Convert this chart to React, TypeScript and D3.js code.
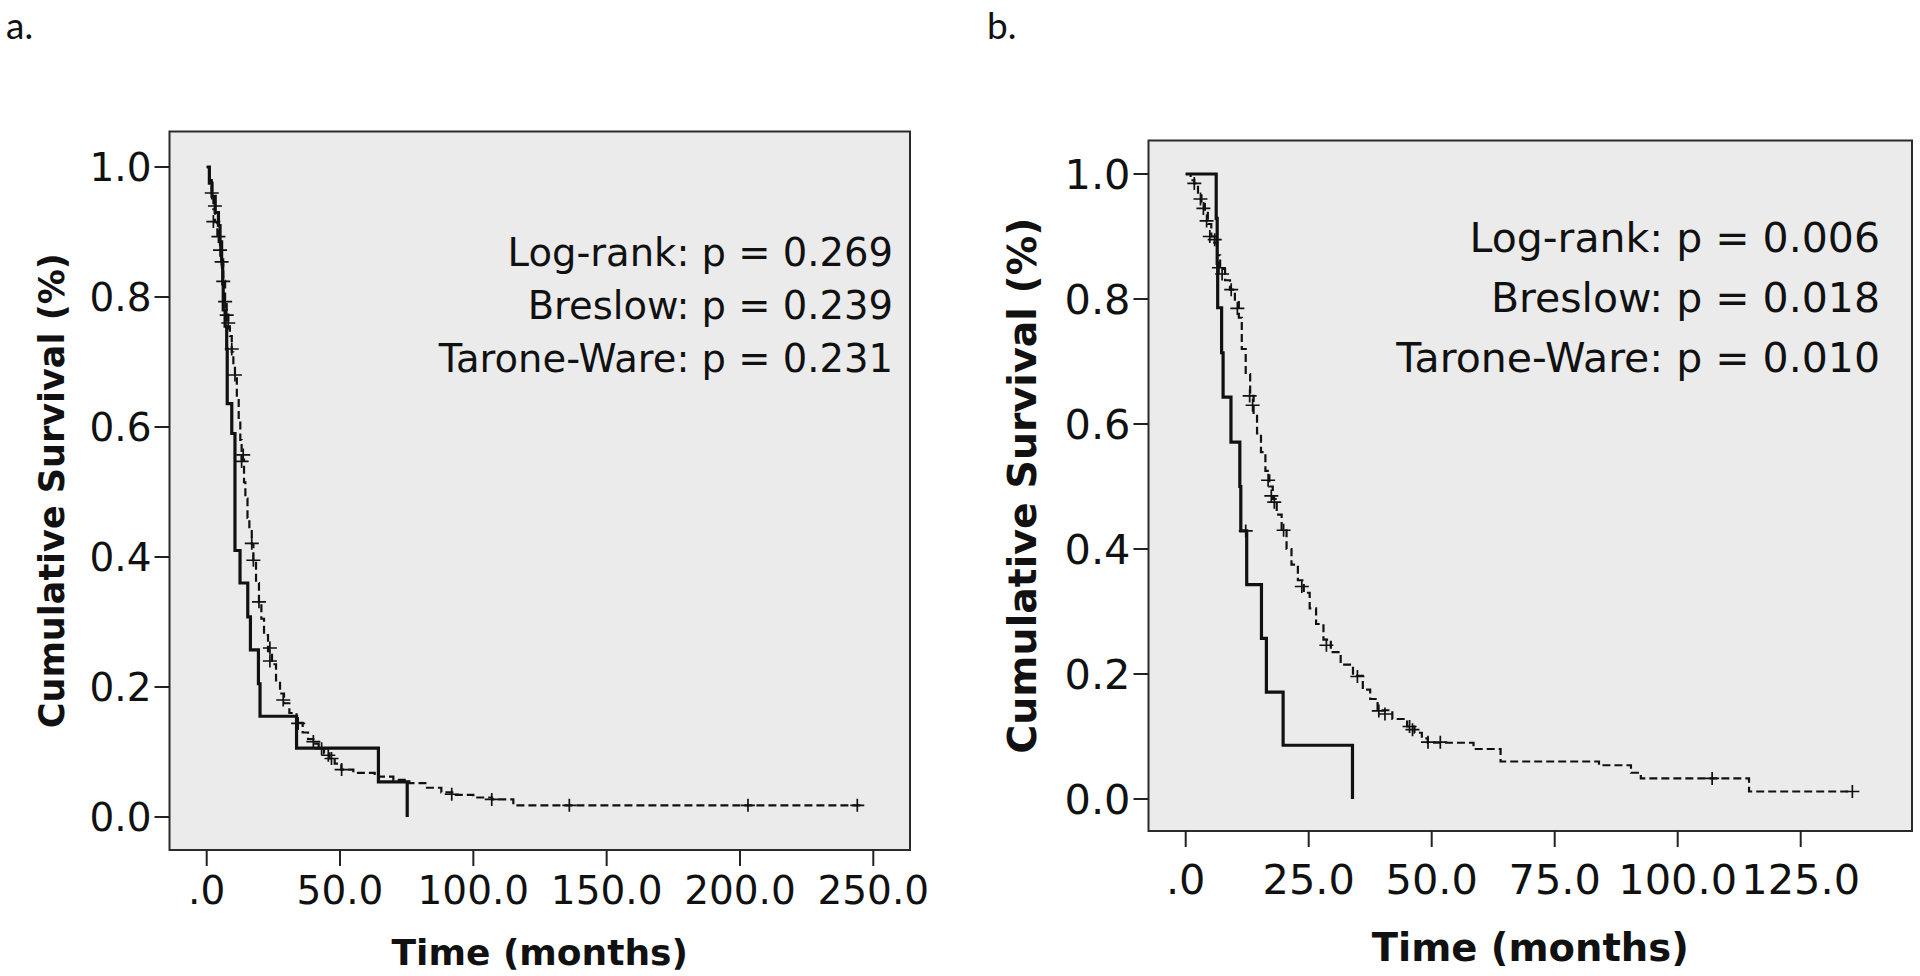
import React from "react";
import * as d3 from "d3";

// survival curves: [time in months, cumulative survival]
const panelASolid: [number, number][] = [
  [0, 1], [1.0, 0.975], [2.0, 0.955], [3.2, 0.93], [4.4, 0.91], [5.0, 0.885],
  [5.6, 0.857], [6.0, 0.82], [6.2, 0.78], [6.9, 0.755], [7.5, 0.72], [7.7, 0.636],
  [9.4, 0.59], [10.6, 0.41], [12.5, 0.36], [15.4, 0.308], [16.4, 0.257],
  [19.4, 0.205], [20.0, 0.155], [33.7, 0.106], [64.4, 0.054], [75.2, 0],
];

const panelADashed: [number, number][] = [
  [0, 1], [1, 0.98], [1.9, 0.96], [2.5, 0.935], [3.1, 0.915], [4, 0.895], [5, 0.872],
  [5.6, 0.85], [6.2, 0.825], [6.9, 0.795], [7.5, 0.775], [8.1, 0.755], [8.7, 0.74],
  [9.4, 0.715], [10, 0.695], [10.6, 0.675], [11.3, 0.645], [12, 0.61], [12.6, 0.58],
  [13.1, 0.55], [14, 0.515], [14.5, 0.49], [15.3, 0.46], [16, 0.44], [16.9, 0.42],
  [17.5, 0.395], [18.5, 0.36], [19.6, 0.33], [20.5, 0.305], [21.5, 0.28], [23, 0.255],
  [24.5, 0.235], [26, 0.21], [27.5, 0.19], [29, 0.175], [31, 0.16], [33.7, 0.145],
  [36, 0.13], [38, 0.12], [40, 0.113], [42, 0.105], [44, 0.098], [46, 0.09], [48, 0.082],
  [50.5, 0.073], [55, 0.068], [63, 0.062], [70, 0.057], [76, 0.052], [82, 0.045],
  [88, 0.038], [93, 0.034], [100, 0.03], [107, 0.027], [115, 0.018], [246, 0.018],
];

const panelACensored: [number, number][] = [
  [1.9, 0.96], [2.5, 0.916], [3.1, 0.94], [4.4, 0.893], [5.0, 0.872], [5.6, 0.854],
  [6.2, 0.824], [6.9, 0.793], [7.5, 0.772], [8.1, 0.76], [9.4, 0.72], [10.6, 0.68],
  [13.1, 0.547], [13.7, 0.557], [16.9, 0.421], [17.5, 0.395], [19.6, 0.331],
  [23.7, 0.26], [23.7, 0.24], [28.7, 0.18], [34.3, 0.144], [40, 0.116], [43.1, 0.105],
  [45.6, 0.095], [46.8, 0.09], [50.6, 0.073], [91.9, 0.035], [106.9, 0.027],
  [136, 0.018], [203, 0.018], [244, 0.018],
];

const panelBSolid: [number, number][] = [
  [0, 1], [6.2, 0.929], [6.4, 0.857], [6.5, 0.786], [7.3, 0.714], [7.6, 0.643],
  [9.2, 0.571], [11.0, 0.5], [11.2, 0.429], [12.4, 0.343], [15.4, 0.257],
  [16.4, 0.171], [19.8, 0.086], [33.9, 0],
];

const panelBDashed: [number, number][] = [
  [0, 1], [1, 0.99], [1.75, 0.985], [2.5, 0.97], [3.2, 0.955], [3.9, 0.94], [4.5, 0.92],
  [5.2, 0.9], [5.8, 0.89], [6.4, 0.87], [7.0, 0.848], [8.0, 0.83], [9.0, 0.815],
  [10.0, 0.795], [10.8, 0.77], [11.4, 0.72], [12.2, 0.68], [13.1, 0.645], [13.8, 0.615],
  [14.5, 0.585], [15.3, 0.555], [16.2, 0.525], [17.0, 0.5], [17.7, 0.48], [18.5, 0.455],
  [19.5, 0.43], [20.5, 0.4], [21.5, 0.375], [22.8, 0.35], [24, 0.33], [25.2, 0.305],
  [26.5, 0.28], [28, 0.255], [29.5, 0.235], [31.5, 0.215], [34, 0.197], [36, 0.175],
  [37.5, 0.16], [39, 0.142], [42, 0.128], [45, 0.116], [46.5, 0.106], [48, 0.097],
  [49.2, 0.09], [58.5, 0.08], [64, 0.06], [84, 0.054], [90.5, 0.042], [92.5, 0.033],
  [114.5, 0.012], [135.5, 0.012],
];

const panelBCensored: [number, number][] = [
  [1.75, 0.985], [3.0, 0.96], [3.6, 0.945], [4.25, 0.925], [4.9, 0.9], [5.9, 0.895],
  [6.75, 0.85], [7.4, 0.84], [9.25, 0.815], [10.5, 0.785], [13, 0.645], [13.6, 0.63],
  [16.75, 0.51], [17.4, 0.485], [18, 0.475], [19.9, 0.43], [23.6, 0.34], [28.6, 0.246],
  [34.9, 0.196], [39.25, 0.141], [40.5, 0.136], [45.5, 0.116], [46.1, 0.111],
  [49.25, 0.091], [51.75, 0.091], [107, 0.033], [135.5, 0.012], [12.2, 0.429],
];

const statsA = ["Log-rank: p = 0.269", "Breslow: p = 0.239", "Tarone-Ware: p = 0.231"];
const statsB = ["Log-rank: p = 0.006", "Breslow: p = 0.018", "Tarone-Ware: p = 0.010"];

const xTicksA = [0, 50, 100, 150, 200, 250];
const xTicksB = [0, 25, 50, 75, 100, 125];
const yTicks = [0, 0.2, 0.4, 0.6, 0.8, 1.0];

const FONT = "'DejaVu Sans', sans-serif";

const fmtX = (v) => (v === 0 ? ".0" : v.toFixed(1));

function Panel({ box, xDomain, xRange, yRange, xTicks, solid, dashed, censored, stats, f }) {
  const x = d3.scaleLinear().domain(xDomain).range(xRange);
  const y = d3.scaleLinear().domain([0, 1]).range(yRange);
  const line = d3.line<[number, number]>()
    .x((d) => x(d[0]))
    .y((d) => y(d[1]))
    .curve(d3.curveStepAfter);
  const [left, top, right, bottom] = box;

  return (
    <g fontFamily={FONT} fill="#111">
      <rect x={left} y={top} width={right - left} height={bottom - top}
        fill="#ebebeb" stroke="#2b2b2b" strokeWidth={2} />

      {yTicks.map((t) => (
        <g key={"y" + t}>
          <line x1={left - 15} x2={left} y1={y(t)} y2={y(t)} stroke="#222" strokeWidth={2} />
          <text x={left - 18} y={y(t)} dy="0.36em" textAnchor="end" fontSize={f.tick}>
            {t.toFixed(1)}
          </text>
        </g>
      ))}
      {xTicks.map((t) => (
        <g key={"x" + t}>
          <line x1={x(t)} x2={x(t)} y1={bottom} y2={bottom + 16} stroke="#222" strokeWidth={2} />
          <text x={x(t)} y={f.xTickY} textAnchor="middle" fontSize={f.tick}>
            {fmtX(t)}
          </text>
        </g>
      ))}

      <path d={line(dashed)} fill="none" stroke="#111" strokeWidth={2.2} strokeDasharray="8,4" />
      <path d={line(solid)} fill="none" stroke="#111" strokeWidth={3.2} />
      {censored.map((d, i) => (
        <path key={i}
          d={`M${x(d[0]) - 7},${y(d[1])}h14M${x(d[0])},${y(d[1]) - 6.5}v13`}
          stroke="#111" strokeWidth={1.7} fill="none" />
      ))}

      {stats.map((s, i) => (
        <text key={s} x={f.statX} y={f.statY + i * f.statGap} textAnchor="end" fontSize={f.stat}>
          {s}
        </text>
      ))}

      <text x={(left + right) / 2} y={f.xTitleY} textAnchor="middle"
        fontSize={f.xTitle} fontWeight="bold">Time (months)</text>
      <text transform={`translate(${f.yTitleX},${(top + bottom) / 2}) rotate(-90)`}
        textAnchor="middle" fontSize={f.yTitle} fontWeight="bold">
        Cumulative Survival (%)
      </text>
    </g>
  );
}

export default function App() {
  return (
    <div style={{ position: "absolute", left: 0, top: 0 }}>
      <svg width={1920} height={976} viewBox="0 0 1920 976" style={{ display: "block", background: "#fff" }}>
        <text x={6} y={39} fontFamily="Lato, 'Open Sans', sans-serif" fontSize={37} fill="#111">a.</text>
        <text x={987} y={39} fontFamily="Lato, 'Open Sans', sans-serif" fontSize={37} fill="#111">b.</text>

        <Panel
          box={[169.5, 131.5, 910, 850]}
          xDomain={[0, 250]} xRange={[206.7, 873.3]} yRange={[817, 167]}
          xTicks={xTicksA}
          solid={panelASolid} dashed={panelADashed} censored={panelACensored}
          stats={statsA}
          f={{ tick: 39, xTickY: 904, stat: 38.5, statX: 893, statY: 266, statGap: 53,
            xTitle: 36, xTitleY: 965, yTitle: 35, yTitleX: 64 }}
        />
        <Panel
          box={[1148.5, 140.5, 1912, 831]}
          xDomain={[0, 125]} xRange={[1185.7, 1800.7]} yRange={[799, 174]}
          xTicks={xTicksB}
          solid={panelBSolid} dashed={panelBDashed} censored={panelBCensored}
          stats={statsB}
          f={{ tick: 41.5, xTickY: 894, stat: 41, statX: 1880, statY: 252, statGap: 60,
            xTitle: 38.5, xTitleY: 961, yTitle: 39.5, yTitleX: 1036 }}
        />
      </svg>
    </div>
  );
}
